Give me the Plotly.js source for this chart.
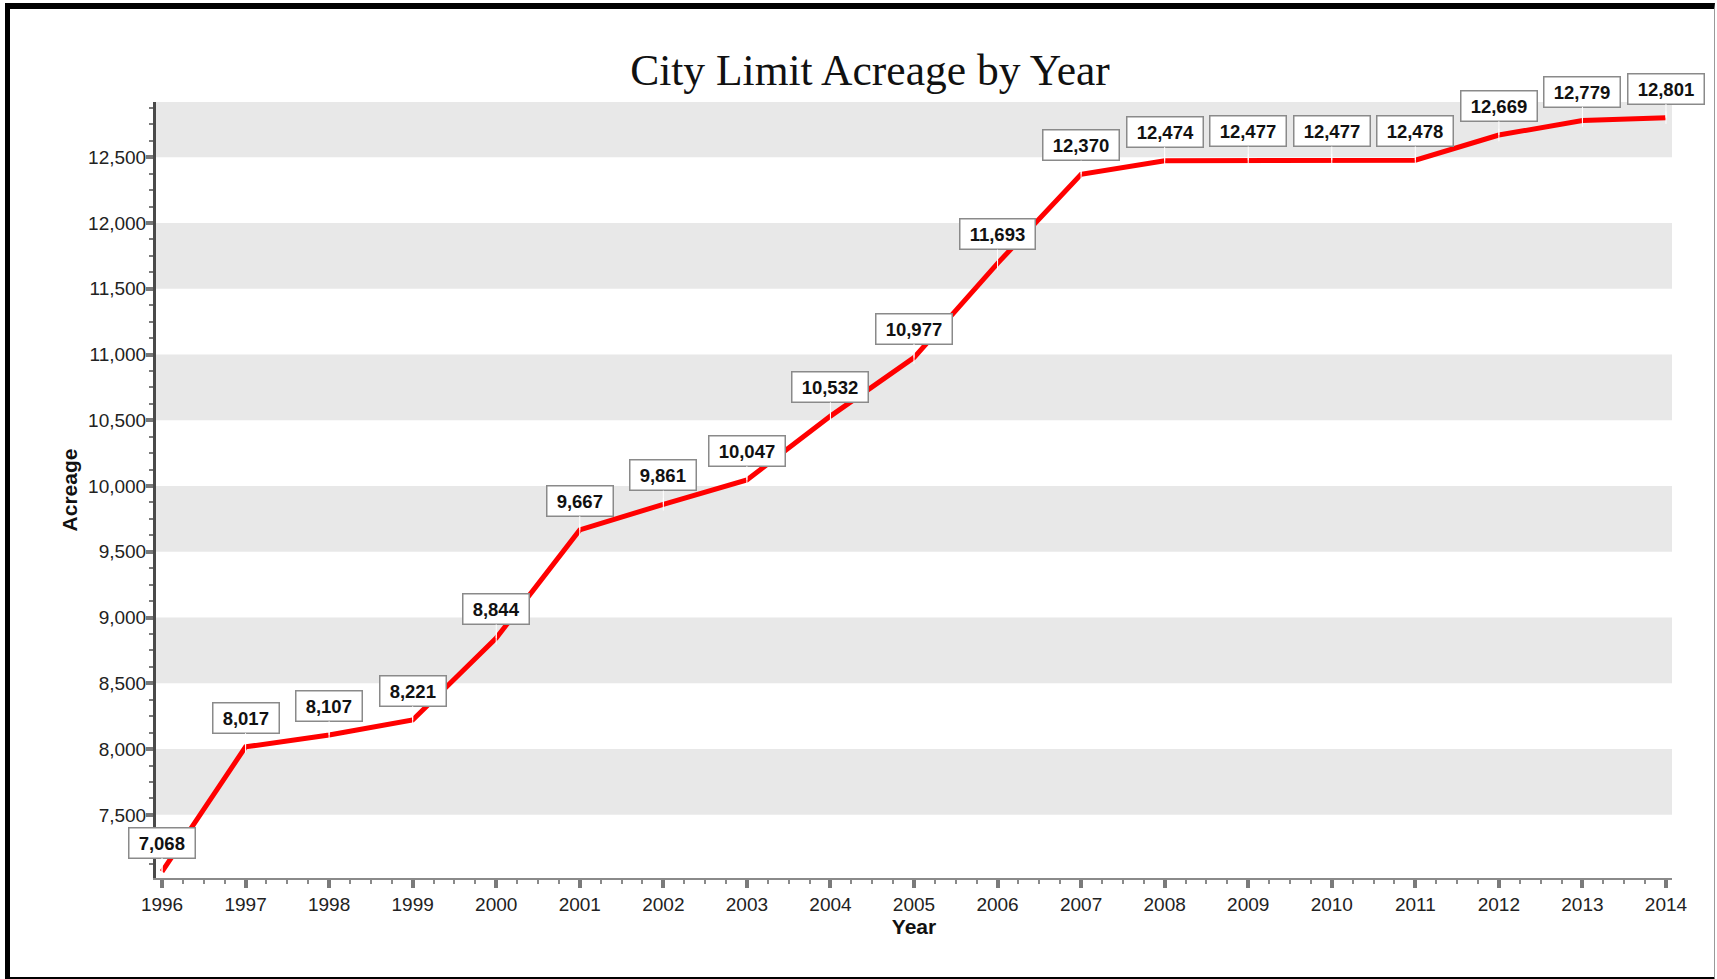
<!DOCTYPE html>
<html>
<head>
<meta charset="utf-8">
<script src="https://cdn.plot.ly/plotly-3.0.1.min.js"></script>
<style>
  html, body { margin: 0; padding: 0; background: #ffffff; overflow: hidden; }
  #chart { width: 1717px; height: 979px; position: absolute; left: 0; top: 0; }
  #frame { position: absolute; left: 5px; top: 3px; width: 1710px; height: 979px; box-sizing: border-box;
           border-left: 5px solid #000; border-top: 6px solid #000; border-bottom: 5px solid #000;
           border-right: 1px solid #999; pointer-events: none; }
</style>
</head>
<body>
<div id="chart"></div>
<div id="frame"></div>
<script>
// ---- data ----
const years = [1996, 1997, 1998, 1999, 2000, 2001, 2002, 2003, 2004, 2005,
               2006, 2007, 2008, 2009, 2010, 2011, 2012, 2013, 2014];
const acreage = [7068, 8017, 8107, 8221, 8844, 9667, 9861, 10047, 10532, 10977,
                 11693, 12370, 12474, 12477, 12477, 12478, 12669, 12779, 12801];
const yTickVals = [7500, 8000, 8500, 9000, 9500, 10000, 10500, 11000, 11500, 12000, 12500];
const xTickVals = years;
const chartTitle = 'City Limit Acreage by Year';
const xTitle = 'Year';
const yTitle = 'Acreage';

// ---- layout helpers ----
const yRange = [7020, 12920];
const xRange = [1995.928, 2014.072];
const sansFont = '"Liberation Sans", Arial, sans-serif';

// alternating gray bands starting at the first tick
const shapes = [];
for (let i = 0; i < yTickVals.length; i += 2) {
  const y0 = yTickVals[i];
  const y1 = (i + 1 < yTickVals.length) ? yTickVals[i + 1] : yRange[1];
  shapes.push({
    type: 'rect', xref: 'paper', yref: 'y', x0: 0, x1: 1, y0: y0, y1: Math.min(y1, yRange[1]),
    fillcolor: '#e8e8e8', line: { width: 0 }, layer: 'below'
  });
}

const annotations = years.map((yr, i) => ({
  x: yr, y: acreage[i], xref: 'x', yref: 'y',
  text: '\u00a0' + acreage[i].toLocaleString('en-US') + '\u00a0',
  showarrow: true, arrowhead: 0, arrowwidth: 1, arrowcolor: '#ffffff',
  ax: 0, ay: -29, standoff: 0,
  bgcolor: '#ffffff', bordercolor: '#8a8a8a', borderwidth: 1.5, borderpad: 4,
  font: { family: sansFont, size: 18.5, color: '#111111', weight: 'bold' }
}));

const trace = {
  x: years, y: acreage, type: 'scatter', mode: 'lines+markers',
  line: { color: '#ff0000', width: 5 },
  marker: { symbol: 'line-ns-open', size: 9, color: '#ffffff', line: { color: '#ffffff', width: 1 } },
  hoverinfo: 'x+y', cliponaxis: false
};

const layout = {
  width: 1717, height: 979,
  margin: { l: 156, r: 45, t: 102, b: 101, pad: 0 },
  paper_bgcolor: '#ffffff', plot_bgcolor: '#ffffff',
  showlegend: false,
  title: {
    text: chartTitle, x: 870 / 1717, xanchor: 'center', xref: 'container',
    y: 1 - 70 / 979, yanchor: 'middle', yref: 'container',
    font: { family: '"Liberation Serif", "Times New Roman", serif', size: 43.5, color: '#111111' }
  },
  xaxis: {
    range: xRange, tickmode: 'array', tickvals: xTickVals, tickformat: 'd',
    showgrid: false, zeroline: false,
    showline: true, linecolor: '#8a8a8a', linewidth: 2,
    ticks: 'outside', ticklen: 8, tickwidth: 4, tickcolor: '#7a7a7a',
    minor: { dtick: 0.25, ticks: 'outside', ticklen: 4, tickwidth: 1.5, tickcolor: '#8a8a8a', showgrid: false },
    tickfont: { family: sansFont, size: 19, color: '#222222' },
    title: { text: xTitle, standoff: 6, font: { family: sansFont, size: 21, color: '#111111', weight: 'bold' } },
    fixedrange: true
  },
  yaxis: {
    range: yRange, tickmode: 'array', tickvals: yTickVals, tickformat: ',d',
    showgrid: false, zeroline: false,
    showline: true, linecolor: '#4a4a4a', linewidth: 3,
    ticks: 'outside', ticklen: 7, tickwidth: 4, tickcolor: '#7a7a7a',
    ticklabelstandoff: -4,
    minor: { dtick: 125, tick0: 7500, ticks: 'outside', ticklen: 4, tickwidth: 1.5, tickcolor: '#7a7a7a', showgrid: false },
    tickfont: { family: sansFont, size: 19, color: '#222222' },
    title: { text: yTitle, standoff: 5, font: { family: sansFont, size: 21, color: '#111111', weight: 'bold' } },
    fixedrange: true
  },
  shapes: shapes,
  annotations: annotations
};

Plotly.newPlot('chart', [trace], layout, { displayModeBar: false, staticPlot: false });
</script>
</body>
</html>
